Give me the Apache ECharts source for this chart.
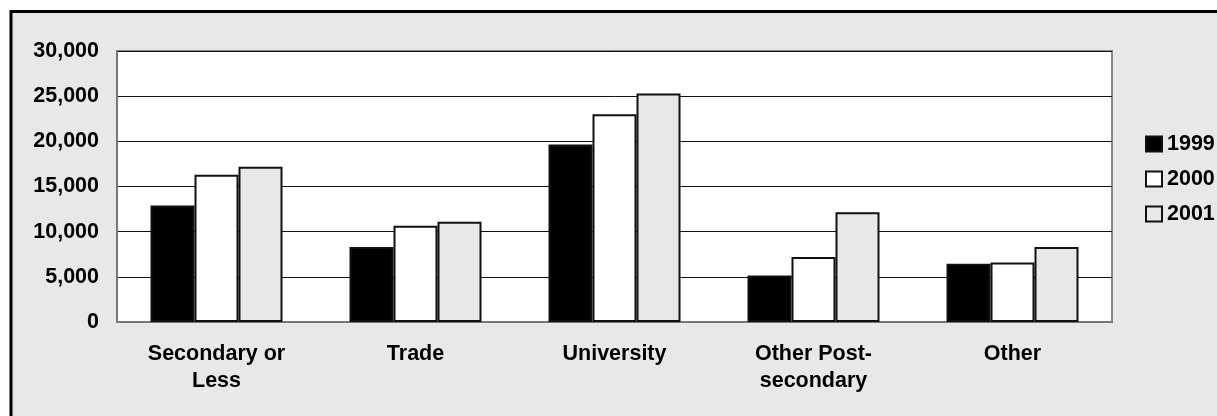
<!DOCTYPE html>
<html>
<head>
<meta charset="utf-8">
<script src="https://cdn.jsdelivr.net/npm/echarts@6/dist/echarts.min.js"></script>
<style>
html,body{margin:0;padding:0;background:#fff;}
#c{width:1217px;height:416px;}
</style>
</head>
<body>
<div id="c"></div>
<script>
const categories = ["Secondary or\nLess", "Trade", "University", "Other Post-\nsecondary", "Other"];
const seriesNames = ["1999", "2000", "2001"];
const values1999 = [12900, 8300, 19650, 5150, 6450];
const values2000 = [16300, 10650, 23000, 7200, 6600];
const values2001 = [17200, 11100, 25300, 12150, 8300];
const yTicks = [0, 5000, 10000, 15000, 20000, 25000, 30000];

const fills = ["#000000", "#ffffff", "#e8e8e8"];
const FONT = "Liberation Sans, Arial, sans-serif";
const chart = echarts.init(document.getElementById('c'), null, {renderer: 'canvas'});

const dataSets = [values1999, values2000, values2001];
const option = {
  backgroundColor: '#ffffff',
  animation: false,
  graphic: [{
    type: 'rect',
    left: 9.5, top: 10,
    shape: {x: 0, y: 0, width: 1300, height: 500},
    style: {fill: '#e8e8e8', stroke: '#000', lineWidth: 3},
    z: -10
  }],
  grid: {
    left: 117, right: 105, top: 51, bottom: 94,
    show: true, backgroundColor: '#ffffff', borderColor: '#888', borderWidth: 2
  },
  legend: {
    orient: 'vertical',
    left: 1145, top: 133, padding: 0,
    itemWidth: 16, itemHeight: 15, itemGap: 13,
    icon: 'rect',
    textStyle: {fontFamily: FONT, fontWeight: 'bold', fontSize: 21.5, color: '#000'},
    data: seriesNames
  },
  xAxis: {
    type: 'category',
    data: categories,
    axisLine: {show: true, lineStyle: {color: '#777', width: 2}},
    axisTick: {show: false},
    axisLabel: {
      interval: 0, margin: 19,
      fontFamily: FONT, fontWeight: 'bold', fontSize: 21.5, lineHeight: 27, color: '#000'
    }
  },
  yAxis: {
    type: 'value',
    min: yTicks[0], max: yTicks[yTicks.length - 1], interval: yTicks[1] - yTicks[0],
    axisLine: {show: true, lineStyle: {color: '#777', width: 2}},
    axisTick: {show: false},
    splitLine: {show: true, lineStyle: {color: '#111', width: 1}},
    axisLabel: {
      margin: 18,
      fontFamily: FONT, fontWeight: 'bold', fontSize: 21.5, color: '#000',
      formatter: v => v.toLocaleString('en-US')
    }
  },
  series: seriesNames.map((n, i) => ({
    name: n,
    type: 'bar',
    data: dataSets[i],
    barWidth: 44,
    barGap: '0%',
    itemStyle: {color: fills[i], borderColor: '#111', borderWidth: 2}
  }))
};
chart.setOption(option);
</script>
</body>
</html>
